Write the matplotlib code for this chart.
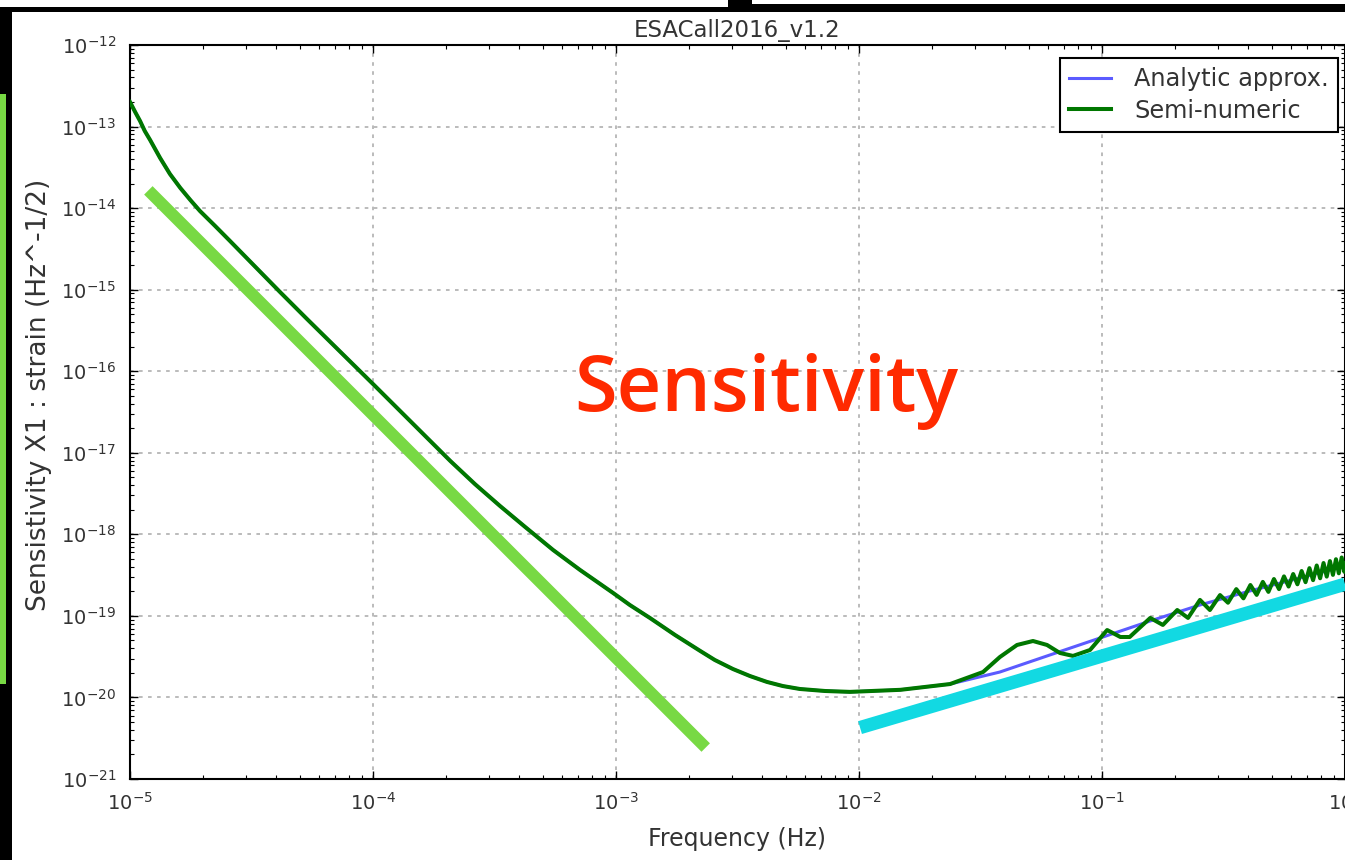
import numpy as np
import matplotlib
matplotlib.use("Agg")
import matplotlib.pyplot as plt
from matplotlib.patches import Rectangle
from matplotlib.ticker import LogLocator

# Analytic approximation of the X1 sensitivity curve
analytic_freq = [1.00e-5, 1.05e-5, 1.10e-5, 1.15e-5, 1.21e-5, 1.33e-5, 1.46e-5, 1.61e-5,
                 1.77e-5, 1.94e-5, 2.24e-5, 2.58e-5, 4.14e-5, 5.35e-5, 1.00e-4, 2.08e-4,
                 2.63e-4, 3.33e-4, 4.23e-4, 5.51e-4, 7.11e-4, 9.73e-4, 1.14e-3, 1.38e-3,
                 1.75e-3, 2.22e-3, 2.55e-3, 3.03e-3, 3.56e-3, 4.18e-3, 4.86e-3, 5.71e-3,
                 7.24e-3, 9.18e-3, 1.48e-2, 2.37e-2, 3.80e-2, 6.11e-2, 9.82e-2, 0.158,
                 0.253, 0.406, 0.653, 1.0]
analytic_sens = [2.00e-13, 1.51e-13, 1.17e-13, 8.83e-14, 6.84e-14, 4.12e-14, 2.62e-14, 1.77e-14,
                 1.26e-14, 9.22e-15, 6.04e-15, 3.95e-15, 9.38e-16, 4.37e-16, 6.97e-17, 7.94e-18,
                 4.12e-18, 2.23e-18, 1.23e-18, 6.43e-19, 3.66e-19, 1.91e-19, 1.36e-19, 9.42e-20,
                 5.83e-20, 3.72e-20, 2.88e-20, 2.23e-20, 1.83e-20, 1.55e-20, 1.38e-20, 1.27e-20,
                 1.20e-20, 1.17e-20, 1.24e-20, 1.46e-20, 2.05e-20, 3.32e-20, 5.36e-20, 8.67e-20,
                 1.36e-19, 2.02e-19, 2.92e-19, 4.09e-19]

# Semi-numeric curve: follows the analytic one at low frequency, then oscillates
wiggle_freq = [3.24e-2, 3.80e-2, 4.47e-2, 5.20e-2, 5.94e-2, 6.71e-2, 7.60e-2, 8.93e-2,
               0.105, 0.119, 0.130, 0.158, 0.178, 0.204, 0.226, 0.253, 0.278, 0.306,
               0.330, 0.357, 0.382, 0.408, 0.433, 0.459, 0.484, 0.510, 0.535, 0.561,
               0.586, 0.612, 0.637, 0.663, 0.688, 0.714, 0.739, 0.765, 0.790, 0.816,
               0.841, 0.867, 0.892, 0.918, 0.943, 0.969, 0.994, 1.0]
wiggle_sens = [2.05e-20, 3.13e-20, 4.40e-20, 4.92e-20, 4.40e-20, 3.51e-20, 3.23e-20, 3.82e-20,
               6.71e-20, 5.51e-20, 5.51e-20, 9.44e-20, 7.74e-20, 1.18e-19, 9.44e-20, 1.57e-19,
               1.18e-19, 1.80e-19, 1.45e-19, 2.13e-19, 1.64e-19, 2.39e-19, 1.81e-19, 2.61e-19,
               1.97e-19, 2.83e-19, 2.13e-19, 3.05e-19, 2.29e-19, 3.26e-19, 2.44e-19, 3.55e-19,
               2.59e-19, 3.85e-19, 2.74e-19, 4.15e-19, 2.89e-19, 4.45e-19, 3.03e-19, 4.70e-19,
               3.18e-19, 4.95e-19, 3.33e-19, 5.20e-19, 3.47e-19, 4.40e-19]
n_low = 36  # points shared with the analytic curve (up to ~2.4e-2 Hz)
semi_freq = analytic_freq[:n_low] + wiggle_freq
semi_sens = analytic_sens[:n_low] + wiggle_sens

# Slope guides drawn over the plot
guide_low_freq = [1.19e-5, 2.34e-3]
guide_low_sens = [1.65e-14, 2.43e-21]
guide_high_freq = [1.01e-2, 1.0]
guide_high_sens = [4.27e-21, 2.45e-19]

W, H = 1345, 860
fig = plt.figure(figsize=(W / 100, H / 100), dpi=100)
fig.patch.set_facecolor("white")


def px_rect(x0, y0, x1, y1, color):
    fig.add_artist(Rectangle((x0 / W, 1 - y1 / H), (x1 - x0) / W, (y1 - y0) / H,
                             transform=fig.transFigure, facecolor=color,
                             edgecolor="none", zorder=0))


# black frame pieces around the figure
px_rect(0, 7, 728, 12, "black")
px_rect(728, 0, 752, 12, "black")
px_rect(752, 4, W, 12, "black")
px_rect(0, 12, 12, H, "black")
px_rect(0, 94, 6, 684, "#78d944")

ax = fig.add_axes([130 / W, 1 - 779 / H, 1215 / W, 734 / H])
ax.set_xscale("log")
ax.set_yscale("log")

ax.plot(analytic_freq, analytic_sens, color="#5b5bff", lw=2.2, label="Analytic approx.", zorder=3)
ax.plot(semi_freq, semi_sens, color="#007700", lw=2.9, label="Semi-numeric", zorder=4)

ax.plot(guide_low_freq, guide_low_sens, color="#78d944", lw=8.6,
        solid_capstyle="butt", zorder=5)
ax.plot(guide_high_freq, guide_high_sens, color="#12d9e2", lw=9.6,
        solid_capstyle="butt", zorder=5)

ax.set_xlim(1e-5, 1)
ax.set_ylim(1e-21, 1e-12)
ax.xaxis.set_major_locator(LogLocator(base=10, numticks=100))
ax.yaxis.set_major_locator(LogLocator(base=10, numticks=100))
ax.xaxis.set_minor_locator(LogLocator(base=10, subs=np.arange(2, 10), numticks=100))
ax.yaxis.set_minor_locator(LogLocator(base=10, subs=np.arange(2, 10), numticks=100))

ax.tick_params(which="both", direction="in", top=True, right=True, colors="black")
ax.tick_params(which="major", length=6, width=1, labelsize=14, labelcolor="#333333")
ax.tick_params(which="minor", length=3, width=0.8)
ax.tick_params(axis="x", pad=9)
ax.tick_params(axis="y", pad=10)
for sp in ax.spines.values():
    sp.set_linewidth(1.5)

ax.grid(True, which="major", color="#b5b5b5", linestyle=(0, (2, 3)), linewidth=1.3)

ax.set_title("ESACall2016_v1.2", fontsize=16.5, color="#333333", pad=6)
ax.set_xlabel("Frequency (Hz)", fontsize=17, color="#333333", labelpad=10)
ax.set_ylabel("Sensistivity X1 : strain (Hz^-1/2)", fontsize=19, color="#333333")
ax.yaxis.set_label_coords(-0.064, 0.523)

leg = ax.legend(loc="upper right", bbox_to_anchor=(0.9942, 0.9823), borderaxespad=0,
                fontsize=17.3, fancybox=False, framealpha=1, edgecolor="black",
                handlelength=1.75, handletextpad=0.95, borderpad=0.38, labelspacing=0.32)
leg.get_frame().set_linewidth(1.5)
for t in leg.get_texts():
    t.set_color("#333333")

fig.text(766 / W, 1 - 411 / H, "Sensitivity", ha="center", va="baseline",
         fontsize=56, color="#ff2a00", family="Open Sans", fontweight="semibold")

fig.savefig("out.png", dpi=100)
